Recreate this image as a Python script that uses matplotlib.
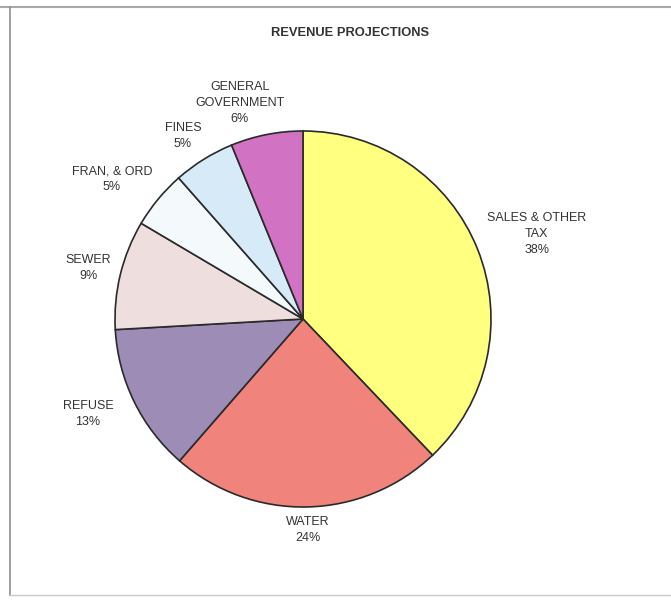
import numpy as np
import matplotlib.pyplot as plt

categories = ['SALES & OTHER\nTAX', 'WATER', 'REFUSE', 'SEWER', 'FRAN, & ORD', 'FINES', 'GENERAL\nGOVERNMENT']
shares = [37.9, 23.5, 12.7, 9.4, 5.0, 5.3, 6.2]       # slice sizes
pct_labels = ['38%', '24%', '13%', '9%', '5%', '5%', '6%']  # printed on the chart

colors = ['#FFFF80', '#F0847C', '#9C8CB6', '#EEDEDE', '#F4FAFC', '#D6EAF8', '#D272C2']
# label placement: radius (in pie radii) and angular nudge (degrees) from the slice middle
label_dist = [1.324, 1.123, 1.25, 1.175, 1.26, 1.164, 1.197]
label_shift = [-1.8, 0.0, -2.3, 0.4, 3.4, 1.4, 5.1]

fig = plt.figure(figsize=(6.71, 6.01), dpi=100)
fig.patch.set_facecolor('white')

# scanned page border
fig.add_artist(plt.Line2D([0, 1], [0.988, 0.988], color='#a8a8a8', lw=1.5))
fig.add_artist(plt.Line2D([0.015, 0.015], [0.01, 0.988], color='#909090', lw=1.2))
fig.add_artist(plt.Line2D([0.015, 1], [0.01, 0.01], color='#c8c8c8', lw=1.0))

ax = fig.add_axes([115 / 671, 94 / 601, 376 / 671, 376 / 601])
wedges, _ = ax.pie(shares, colors=colors, startangle=90, counterclock=False,
                   wedgeprops=dict(edgecolor='#2a2a2a', linewidth=1.2))
ax.set_xlim(-1, 1)
ax.set_ylim(-1, 1)

for w, lab, pct, d, s in zip(wedges, categories, pct_labels, label_dist, label_shift):
    ang = np.deg2rad((w.theta1 + w.theta2) / 2 + s)
    ax.text(d * np.cos(ang), d * np.sin(ang), f'{lab}\n{pct}', ha='center', va='center',
            fontsize=9, family='Liberation Sans', color='#333333', linespacing=1.4,
            clip_on=False)

fig.text(350 / 671, 1 - 33 / 601, 'REVENUE PROJECTIONS', ha='center', va='center',
         fontsize=9.3, fontweight='bold', family='Liberation Sans', color='#333333')

fig.savefig('out.png', dpi=100)
